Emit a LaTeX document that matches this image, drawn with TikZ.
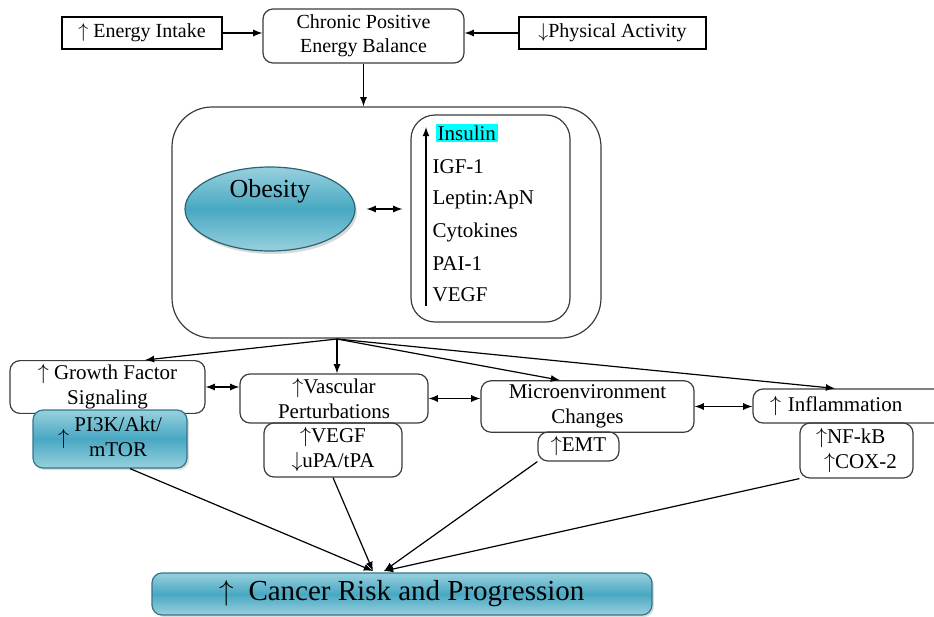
\documentclass[tikz,border=0pt]{standalone}
\usepackage{fontspec}
\setmainfont{Liberation Serif}
\usepackage{tikz}
\usetikzlibrary{arrows,shapes,shadows}
\usepackage{amsmath,amssymb}

\definecolor{tealhi}{RGB}{152,208,222}
\definecolor{tealmid}{RGB}{72,168,194}
\definecolor{boxline}{RGB}{60,60,60}
\definecolor{hilite}{RGB}{0,255,255}

\begin{document}
\begin{tikzpicture}[x=0.5pt,y=-0.5pt,line width=0.6pt]
                \tikzstyle{flat}=[draw=black,rectangle,inner sep=2pt,font=\fontsize{10}{12}\selectfont]
                \tikzstyle{rbox}=[draw=boxline,rectangle,rounded corners=5pt,align=center,inner sep=2pt,font=\fontsize{10.5}{12.5}\selectfont]
                \tikzstyle{tealbox}=[rbox,draw=tealmid!70!black,top color=tealhi,bottom color=tealhi,middle color=tealmid,drop shadow={opacity=0.25,shadow xshift=1pt,shadow yshift=-1pt}]
                \tikzstyle{item}=[anchor=west,inner sep=1pt,font=\fontsize{10.5}{12.5}\selectfont]
                \tikzstyle{myarrow}=[-latex,draw=black]
                \tikzstyle{twoway}=[latex-latex,draw=black]

                \useasboundingbox (0,0) rectangle (934,617);

                % top row
                \node[flat,minimum width=80pt,minimum height=16pt] (intake) at (142,33) {$\uparrow$ Energy Intake};
                \node[rbox,minimum width=100.5pt,minimum height=27pt,font=\fontsize{10}{12}\selectfont] (balance) at (363.5,36) {Chronic Positive\\Energy Balance};
                \node[flat,minimum width=93.5pt,minimum height=16pt] (activity) at (612.5,33) {$\downarrow$Physical Activity};

                \draw[myarrow] (intake.east) -- (intake.east -| balance.west);
                \draw[myarrow] (activity.west) -- (activity.west -| balance.east);

                % obesity block
                \node[draw=boxline,rectangle,rounded corners=20pt,minimum width=214.5pt,minimum height=115.5pt] (outer) at (386.5,222.5) {};
                \draw[myarrow] (balance.south) -- (balance.south |- outer.north);

                \node[ellipse,minimum width=85pt,minimum height=42pt,draw=tealmid!60!black,top color=tealhi,bottom color=tealhi,middle color=tealmid,drop shadow={opacity=0.3,shadow xshift=1pt,shadow yshift=-1.5pt},
                      label={[font=\fontsize{13}{15}\selectfont,yshift=9pt]center:Obesity}] (obesity) at (270,209) {};

                \node[draw=boxline,rectangle,rounded corners=12pt,minimum width=79.5pt,minimum height=103.5pt] (list) at (490.5,218.5) {};
                \draw[twoway,shorten <=5.5pt,shorten >=4pt] (obesity.east) -- (obesity.east -| list.west);

                \node[item,fill=hilite] (insulin) at (435,133) {Insulin};
                \node[item] (igf) at (430,167) {IGF-1};
                \node[item] (leptin) at (430,200) {Leptin:ApN};
                \node[item] (cyto) at (430,232) {Cytokines};
                \node[item] (pai) at (430,264) {PAI-1};
                \node[item] (vegf) at (430,295) {VEGF};
                \coordinate (up0) at (426,306);
                \coordinate (up1) at (426,127);
                \draw[myarrow] (up0) -- (up1);

                % middle row
                \node[rbox,minimum width=97.5pt,minimum height=26pt] (growth) at (107.5,387) {$\uparrow$ Growth Factor\\Signaling};
                \node[rbox,minimum width=94pt,minimum height=24.5pt] (vasc) at (334,398.5) {$\uparrow$Vascular\\Perturbations};
                \node[rbox,minimum width=106.5pt,minimum height=25.5pt] (micro) at (587.5,406.5) {Microenvironment\\Changes};
                \node[rbox,text width=100pt,align=left,inner xsep=8.5pt,minimum height=17pt] (inflam) at (870,406) {$\uparrow$ Inflammation};

                \coordinate (hub) at (337,339);
                \draw[myarrow] (hub) -- ([xshift=18.75pt]growth.north);
                \draw[myarrow] (hub) -- (hub |- vasc.north);
                \draw[myarrow] (hub) -- ([xshift=-13.75pt]micro.north);
                \draw[myarrow] (hub) -- ([xshift=-17.5pt]inflam.north);

                \draw[twoway] (growth.east) -- (growth.east -| vasc.west);
                \draw[twoway] (vasc.east) -- (vasc.east -| micro.west);
                \draw[twoway] (micro.east) -- (micro.east -| inflam.west);

                % lower row
                \node[tealbox,minimum width=77pt,minimum height=23pt] (pi3k) at (110,439) {$\uparrow$\ \begin{tabular}{@{}c@{}}PI3K/Akt/\\mTOR\end{tabular}};
                \node[rbox,minimum width=69pt,minimum height=27pt] (factors) at (333,450) {$\uparrow$VEGF\\$\downarrow$uPA/tPA};
                \node[rbox,minimum width=40.5pt,minimum height=14.5pt] (emt) at (578.5,446.5) {$\uparrow$EMT};
                \node[rbox,align=left,minimum width=56.5pt,minimum height=27.5pt] (nfkb) at (856.5,450.5) {$\uparrow$NF-kB\\\hspace{4pt}$\uparrow$COX-2};

                % cancer
                \node[tealbox,minimum width=250pt,minimum height=21pt,font=\fontsize{14.5}{17}\selectfont] (cancer) at (402,594) {$\uparrow$\ \ Cancer Risk and Progression};
                \coordinate (inL) at (373,571);
                \coordinate (inR) at (384,571);
                \draw[myarrow] ([xshift=10pt]pi3k.south) -- (inL);
                \draw[myarrow] (factors.south) -- (inL);
                \draw[myarrow] (emt.south west) -- (inR);
                \draw[myarrow] (nfkb.south west) -- (inR);
                \end{tikzpicture}
\end{document}
